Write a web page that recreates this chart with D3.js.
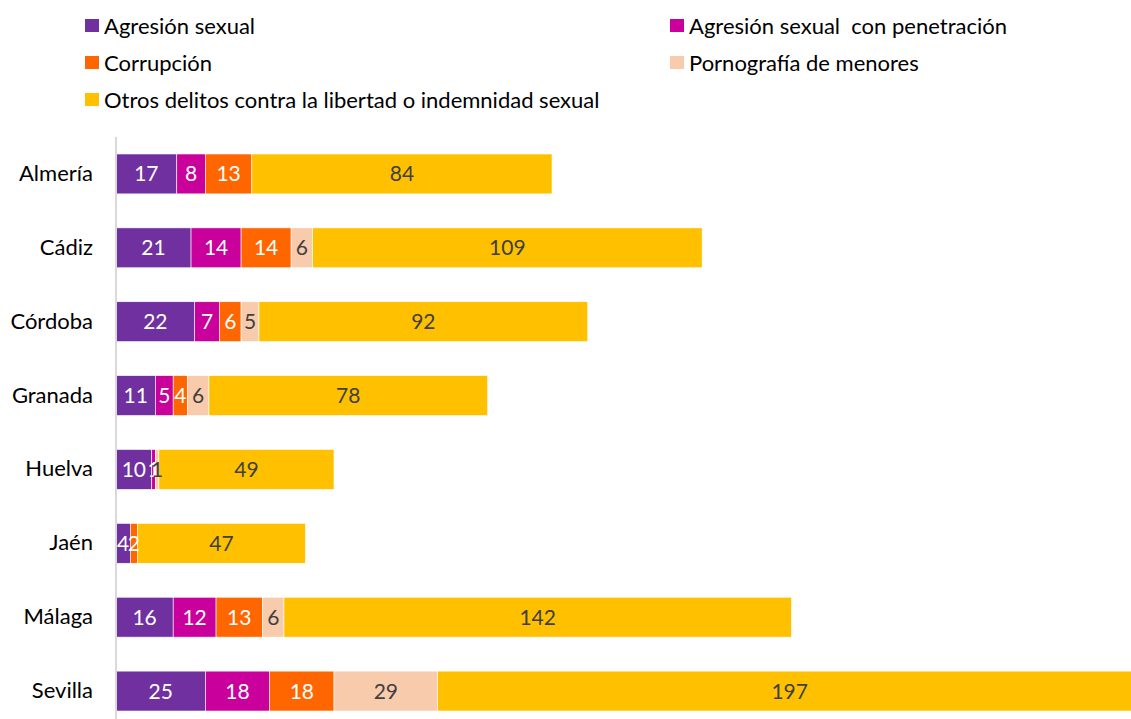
<!DOCTYPE html>
<html>
<head>
<meta charset="utf-8">
<script src="https://cdn.jsdelivr.net/npm/d3@7"></script>
<style>
  body { margin: 0; background: #fff; }
  svg { display: block; font-family: Lato, "Noto Sans", sans-serif; }
</style>
</head>
<body>
<svg id="chart"></svg>
<script>
const provinces = ["Almería", "Cádiz", "Córdoba", "Granada", "Huelva", "Jaén", "Málaga", "Sevilla"];
const seriesNames = [
  "Agresión sexual",
  "Agresión sexual  con penetración",
  "Corrupción",
  "Pornografía de menores",
  "Otros delitos contra la libertad o indemnidad sexual"
];
const agresion = [17, 21, 22, 11, 10, 4, 16, 25];
const penetracion = [8, 14, 7, 5, 1, 0, 12, 18];
const corrupcion = [13, 14, 6, 4, 0, 2, 13, 18];
const pornografia = [0, 6, 5, 6, 1, 0, 6, 29];
const otros = [84, 109, 92, 78, 49, 47, 142, 197];

const colors = ["#7030A0", "#C9009B", "#FF6600", "#F8CBAD", "#FFC000"];
const labelColors = ["#fff", "#fff", "#fff", "#404040", "#404040"];

const width = 1131, height = 719;
const svg = d3.select("#chart").attr("width", width).attr("height", height);

const table = provinces.map((p, i) => ({
  province: p,
  s0: agresion[i], s1: penetracion[i], s2: corrupcion[i], s3: pornografia[i], s4: otros[i]
}));
const keys = ["s0", "s1", "s2", "s3", "s4"];
const stacked = d3.stack().keys(keys)(table);

const x = d3.scaleLinear().domain([0, 284]).range([116, 1131]);
const y = d3.scaleBand().domain(provinces).range([137, 728]).paddingInner(0.46).paddingOuter(0.23);

// bars
const layers = svg.append("g")
  .selectAll("g")
  .data(stacked)
  .join("g")
  .attr("fill", (d, i) => colors[i]);

layers.selectAll("rect")
  .data(d => d)
  .join("rect")
  .attr("x", d => x(d[0]))
  .attr("y", d => y(d.data.province))
  .attr("width", d => x(d[1]) - x(d[0]))
  .attr("height", y.bandwidth())
  .attr("stroke", "#fff")
  .attr("stroke-width", 0.6);

// data labels
stacked.forEach((layer, i) => {
  svg.append("g")
    .selectAll("text")
    .data(layer.filter(d => d[1] - d[0] > 0))
    .join("text")
    .attr("x", d => (x(d[0]) + x(d[1])) / 2)
    .attr("y", d => y(d.data.province) + y.bandwidth() / 2)
    .attr("dy", "0.36em")
    .attr("text-anchor", "middle")
    .attr("fill", labelColors[i])
    .attr("font-size", 21)
    .text(d => d[1] - d[0]);
});

// axis
const axis = svg.append("g")
  .attr("transform", "translate(116,0)")
  .call(d3.axisLeft(y).tickSize(0).tickPadding(23));
axis.select(".domain").attr("stroke", "#d9d9d9").attr("stroke-width", 2)
  .attr("d", `M0,137V${height}`);
axis.selectAll("text").attr("font-size", 22).attr("fill", "#000")
  .attr("font-family", "Lato, 'Noto Sans', sans-serif");

// legend
const legendPos = [[85, 26], [670, 26], [85, 63], [670, 63], [85, 100]];
const legend = svg.append("g")
  .selectAll("g")
  .data(seriesNames)
  .join("g")
  .attr("transform", (d, i) => `translate(${legendPos[i][0]},${legendPos[i][1]})`);
legend.append("rect")
  .attr("x", 0).attr("y", -7).attr("width", 14).attr("height", 13)
  .attr("fill", (d, i) => colors[i]);
legend.append("text")
  .attr("x", 19).attr("dy", "0.36em")
  .attr("font-size", 22).attr("fill", "#000")
  .style("white-space", "pre")
  .text(d => d);
</script>
</body>
</html>
